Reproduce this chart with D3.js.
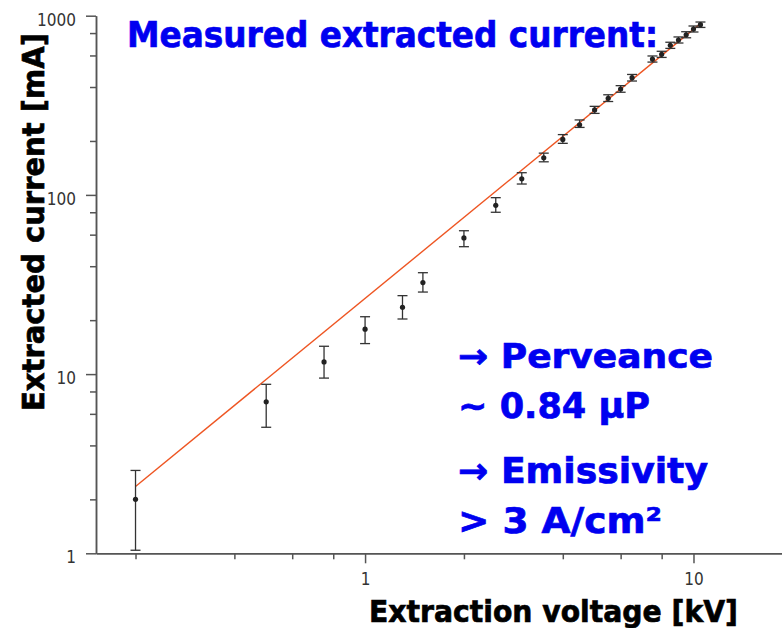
<!DOCTYPE html>
<html>
<head>
<meta charset="utf-8">
<script src="https://cdn.jsdelivr.net/npm/d3@7"></script>
<style>
  body { margin: 0; background: #fff; }
  .axis path, .axis line { stroke: #555; stroke-width: 1.5; }
  .axis text { fill: #333; font-family: "DejaVu Sans Condensed", "DejaVu Sans", sans-serif; font-size: 17px; }
  .title { font-family: "DejaVu Sans", sans-serif; font-weight: bold; stroke-width: 0.7; }
</style>
</head>
<body>
<div id="chart"></div>
<script>

// measured points
var voltage = [0.2, 0.5, 0.75, 1.0, 1.3, 1.5, 2.0, 2.5, 3.0, 3.5, 4.0, 4.5, 5.0, 5.5, 6.0, 6.5, 7.5, 8.0, 8.5, 9.0, 9.5, 10.0, 10.5];
var current = [2.0, 7.0, 11.7, 17.8, 23.6, 32.4, 57.5, 87.5, 123, 161, 204, 246, 298, 346, 390, 451, 573, 609, 684, 732, 783, 843, 891];
var errLow  = [1.04, 5.05, 9.5, 14.8, 20.3, 28.7, 51.4, 80.0, 115, 153, 194, 238, 285, 332, 374, 432, 551, 585, 657, 704, 753, 811, 860];
var errHigh = [2.9, 8.77, 14.3, 20.9, 27.4, 36.8, 63.1, 96.5, 133, 171, 217, 262, 312, 362, 407, 470, 596, 633, 711, 761, 814, 876, 922];

// fitted line (end points)
var fitVoltage = [0.2, 10.5];
var fitCurrent = [2.36, 903];

// ticks
var xMajor = [1, 10];
var xMinor = [0.2, 0.4, 0.6, 0.8, 2, 4, 6, 8];
var yMajor = [1, 10, 100, 1000];
var yMinor = [2, 4, 6, 8, 20, 40, 60, 80, 200, 400, 600, 800];

var width = 782,
  height = 628;

var x = d3.scaleLog()
  .domain([0.1516, 18.6])
  .range([96, 782]);

var y = d3.scaleLog()
  .domain([1, 1000])
  .range([553.3, 15.7]);

var svg = d3.select("#chart").append("svg")
  .attr("width", width)
  .attr("height", height);

// y axis
svg.append("g")
  .attr("class", "axis")
  .attr("transform", "translate(96,0)")
  .call(d3.axisLeft(y).tickValues(yMinor).tickFormat("").tickSize(6).tickSizeOuter(0));

svg.append("g")
  .attr("class", "axis")
  .attr("transform", "translate(96,0)")
  .call(d3.axisLeft(y).tickValues(yMajor).tickFormat(d3.format("d")).tickSize(10).tickPadding(10).tickSizeOuter(0))
  .selectAll("text").attr("dy", "0.55em");

// x axis
svg.append("g")
  .attr("class", "axis")
  .attr("transform", "translate(0,553.3)")
  .call(d3.axisBottom(x).tickValues(xMinor).tickFormat("").tickSize(6).tickSizeOuter(0));

svg.append("g")
  .attr("class", "axis")
  .attr("transform", "translate(0,553.3)")
  .call(d3.axisBottom(x).tickValues(xMajor).tickFormat(d3.format("d")).tickSize(10).tickPadding(10).tickSizeOuter(0));

// fit line
var line = d3.line()
  .x(function(d, i) { return x(fitVoltage[i]); })
  .y(function(d) { return y(d); });

svg.append("path")
  .attr("d", line(fitCurrent))
  .attr("fill", "none")
  .attr("stroke", "#ee5522")
  .attr("stroke-width", 1.4);

// error bars
var bars = svg.append("g")
  .attr("stroke", "#333")
  .attr("stroke-width", 1.3)
  .selectAll("g")
  .data(voltage)
  .enter().append("g");

bars.append("line")
  .attr("x1", function(d) { return x(d); })
  .attr("x2", function(d) { return x(d); })
  .attr("y1", function(d, i) { return y(errLow[i]); })
  .attr("y2", function(d, i) { return y(errHigh[i]); });

bars.append("line")
  .attr("x1", function(d) { return x(d) - 5; })
  .attr("x2", function(d) { return x(d) + 5; })
  .attr("y1", function(d, i) { return y(errLow[i]); })
  .attr("y2", function(d, i) { return y(errLow[i]); });

bars.append("line")
  .attr("x1", function(d) { return x(d) - 5; })
  .attr("x2", function(d) { return x(d) + 5; })
  .attr("y1", function(d, i) { return y(errHigh[i]); })
  .attr("y2", function(d, i) { return y(errHigh[i]); });

// points
svg.append("g")
  .selectAll("circle")
  .data(voltage)
  .enter().append("circle")
  .attr("cx", function(d) { return x(d); })
  .attr("cy", function(d, i) { return y(current[i]); })
  .attr("r", 2.6)
  .attr("fill", "#222");

// axis titles
svg.append("text")
  .attr("class", "title")
  .attr("transform", "translate(44,222) rotate(-90)")
  .attr("text-anchor", "middle")
  .attr("font-size", 31)
  .attr("textLength", 378)
  .attr("lengthAdjust", "spacingAndGlyphs")
  .attr("fill", "#000")
  .attr("stroke", "#000")
  .text("Extracted current [mA]");

svg.append("text")
  .attr("class", "title")
  .attr("x", 369)
  .attr("y", 622)
  .attr("font-size", 31)
  .attr("textLength", 369)
  .attr("lengthAdjust", "spacingAndGlyphs")
  .attr("fill", "#000")
  .attr("stroke", "#000")
  .text("Extraction voltage [kV]");

// blue annotations
var notes = [
  { t: "Measured extracted current:", x: 127, y: 46.7, s: 36, w: 531 },
  { t: "\u2192 Perveance", x: 458, y: 368, s: 34, w: 255 },
  { t: "~ 0.84 \u03bcP", x: 458, y: 418, s: 36, w: 192 },
  { t: "\u2192 Emissivity", x: 458, y: 483, s: 36, w: 250 },
  { t: "> 3 A/cm\u00b2", x: 458, y: 533, s: 36, w: 204 }
];

svg.selectAll(".note")
  .data(notes)
  .enter().append("text")
  .attr("class", "title note")
  .attr("x", function(d) { return d.x; })
  .attr("y", function(d) { return d.y; })
  .attr("font-size", function(d) { return d.s; })
  .attr("textLength", function(d) { return d.w; })
  .attr("lengthAdjust", "spacingAndGlyphs")
  .attr("fill", "#0000f0")
  .attr("stroke", "#0000f0")
  .text(function(d) { return d.t; });

</script>
</body>
</html>
